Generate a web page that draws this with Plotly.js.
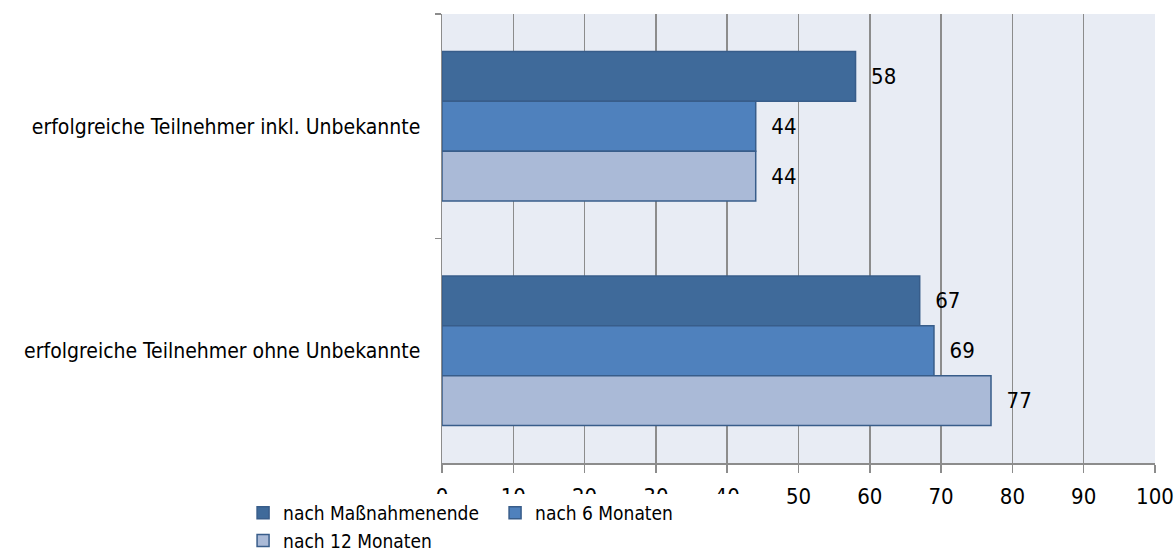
<!DOCTYPE html>
<html><head><meta charset="utf-8">
<script src="https://cdn.plot.ly/plotly-3.0.1.min.js"></script>
<style>html,body{margin:0;padding:0;background:#fff}#c{width:1175px;height:560px}</style>
</head><body><div id="c"></div>
<script>
const categories = ['erfolgreiche Teilnehmer inkl. Unbekannte', 'erfolgreiche Teilnehmer ohne Unbekannte'];
const seriesNames = ['nach Maßnahmenende', 'nach 6 Monaten', 'nach 12 Monaten'];
const valsEnde = [58, 67];
const vals6 = [44, 69];
const vals12 = [44, 77];
const xTicks = [0,10,20,30,40,50,60,70,80,90,100];

const FONT = '"DejaVu Sans Condensed", "Liberation Sans", sans-serif';
const colors = ['#3F6A9A', '#4F81BD', '#AABAD7'];
const series = [valsEnde, vals6, vals12];

const traces = series.map((v, i) => ({
  type: 'bar', orientation: 'h', name: seriesNames[i],
  y: categories, x: v,
  marker: {color: colors[i], line: {color: '#385D8A', width: 1.5}},
  text: v.map(String), textposition: 'outside', texttemplate: '  %{x}',
  textfont: {family: FONT, size: 22, color: '#000'}, cliponaxis: false
}));

const layout = {
  width: 1175, height: 560,
  margin: {l: 442, r: 20, t: 14, b: 97},
  paper_bgcolor: '#fff', plot_bgcolor: '#E8ECF4',
  barmode: 'group', bargap: 1/3, bargroupgap: 0,
  font: {family: FONT, size: 20, color: '#000'},
  xaxis: {range: [0, 100], tickvals: xTicks, showgrid: true, gridcolor: '#8C8C8C', gridwidth: 1.5,
    zeroline: false, showline: true, linecolor: '#8C8C8C', linewidth: 1.5,
    ticks: 'outside', ticklen: 8, tickcolor: '#8C8C8C', tickwidth: 1.5,
    ticklabelstandoff: 5,
    tickfont: {family: FONT, size: 22}, fixedrange: true},
  yaxis: {autorange: 'reversed', type: 'category', showgrid: false, zeroline: false,
    showline: true, linecolor: '#8C8C8C', linewidth: 1.5,
    ticks: 'outside', tickson: 'boundaries', ticklen: 6, tickcolor: '#8C8C8C', tickwidth: 1.5,
    ticklabelstandoff: 16,
    tickfont: {family: FONT, size: 21}},
  legend: {orientation: 'h', xref: 'paper', yref: 'container', x: -0.279, xanchor: 'left',
    y: -0.001, yanchor: 'bottom', font: {family: FONT, size: 19}, traceorder: 'normal',
    itemwidth: 30, entrywidth: 207, entrywidthmode: 'pixels'},
  showlegend: true
};
Plotly.newPlot('c', traces, layout, {displayModeBar: false, staticPlot: true});
</script></body></html>
